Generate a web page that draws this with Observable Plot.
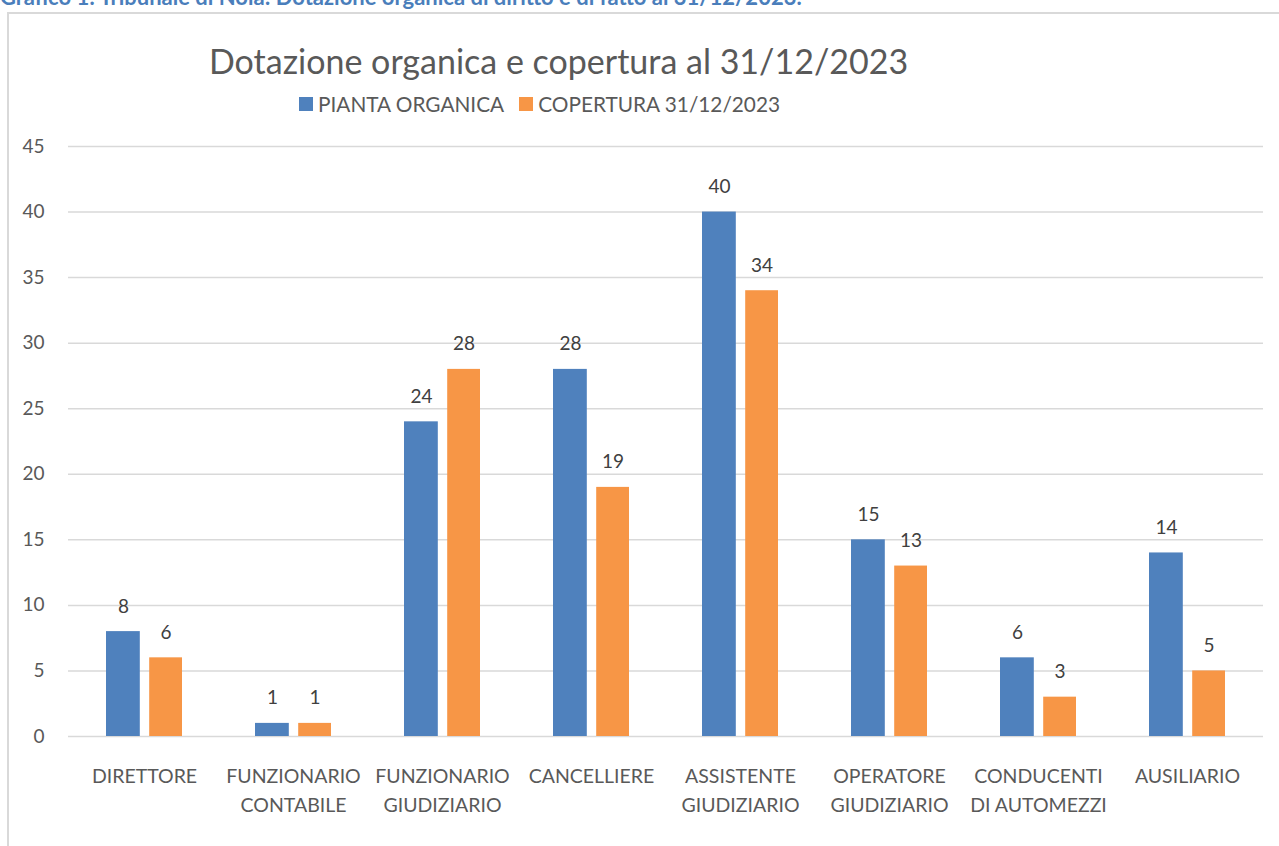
<!DOCTYPE html>
<html>
<head>
<meta charset="utf-8">
<script src="https://cdn.jsdelivr.net/npm/d3@7"></script>
<script src="https://cdn.jsdelivr.net/npm/@observablehq/plot@0.6"></script>
<style>
  html, body { margin: 0; padding: 0; background: #fff; }
  body { width: 1279px; height: 846px; position: relative; overflow: hidden; font-family: Lato, "Open Sans", sans-serif; }
  #caption { position: absolute; left: 0; top: -14px; font: bold 22px/22px Lato, sans-serif; color: #4a7ebb; white-space: nowrap; }
  #frame { position: absolute; left: 7px; top: 12px; width: 1290px; height: 860px; border: 2px solid #d9d9d9; box-sizing: border-box; }
  #title { position: absolute; left: 209px; top: 40px; font-size: 34px; color: #595959; white-space: nowrap; }
  #legend { position: absolute; left: 299px; top: 91px; font-size: 20.8px; color: #595959; white-space: nowrap; display: flex; align-items: center; }
  #legend .sw { display: inline-block; width: 14px; height: 14px; margin-right: 5px; }
  #legend .item { display: flex; align-items: center; margin-right: 15px; }
  #chart { position: absolute; left: 0; top: 120px; }
</style>
</head>
<body>
<div id="caption">Grafico 1: Tribunale di Nola: Dotazione organica di diritto e di fatto al 31/12/2023.</div>
<div id="frame"></div>
<div id="title">Dotazione organica e copertura al 31/12/2023</div>
<div id="legend"></div>
<div id="chart"></div>
<script>
const categories = ["DIRETTORE", "FUNZIONARIO CONTABILE", "FUNZIONARIO GIUDIZIARIO", "CANCELLIERE", "ASSISTENTE GIUDIZIARIO", "OPERATORE GIUDIZIARIO", "CONDUCENTI DI AUTOMEZZI", "AUSILIARIO"];
const categoryLabels = ["DIRETTORE", "FUNZIONARIO\nCONTABILE", "FUNZIONARIO\nGIUDIZIARIO", "CANCELLIERE", "ASSISTENTE\nGIUDIZIARIO", "OPERATORE\nGIUDIZIARIO", "CONDUCENTI\nDI AUTOMEZZI", "AUSILIARIO"];
const seriesNames = ["PIANTA ORGANICA", "COPERTURA 31/12/2023"];
const piantaOrganica = [8, 1, 24, 28, 40, 15, 6, 14];
const copertura = [6, 1, 28, 19, 34, 13, 3, 5];
const seriesColors = ["#4f81bd", "#f79646"];
const yTicks = [0, 5, 10, 15, 20, 25, 30, 35, 40, 45];

const dataA = categories.map((c, i) => ({category: c, value: piantaOrganica[i]}));
const dataB = categories.map((c, i) => ({category: c, value: copertura[i]}));
const labelOf = new Map(categories.map((c, i) => [c, categoryLabels[i]]));

const legend = document.getElementById("legend");
seriesNames.forEach((n, i) => {
  const it = document.createElement("span");
  it.className = "item";
  it.innerHTML = `<span class="sw" style="background:${seriesColors[i]}"></span>${n}`;
  legend.appendChild(it);
});

const chart = Plot.plot({
  width: 1279,
  height: 726,
  marginLeft: 68,
  marginRight: 16,
  marginTop: 26,
  marginBottom: 110,
  style: {fontFamily: "Lato, sans-serif", background: "transparent"},
  x: {domain: categories, paddingInner: 0.49, paddingOuter: 0.245},
  y: {domain: [0, 45]},
  marks: [
    Plot.gridY(yTicks, {stroke: "#d9d9d9", strokeOpacity: 1, strokeWidth: 1.5}),
    Plot.barY(dataA, {x: "category", y: "value", fill: seriesColors[0], insetRight: 42.2}),
    Plot.barY(dataB, {x: "category", y: "value", fill: seriesColors[1], insetLeft: 43.2}),
    Plot.text(dataA, {x: "category", y: "value", text: d => String(d.value), dx: -21, dy: -25, fontSize: 19, fill: "#404040"}),
    Plot.text(dataB, {x: "category", y: "value", text: d => String(d.value), dx: 21.6, dy: -25, fontSize: 19, fill: "#404040"}),
    Plot.axisY(yTicks, {tickSize: 0, tickPadding: 24, fontSize: 19, color: "#595959", label: null}),
    Plot.axisX({tickSize: 0, tickPadding: 25, fontSize: 19.5, color: "#595959", label: null, lineHeight: 1.52, tickFormat: d => labelOf.get(d)})
  ]
});
document.getElementById("chart").appendChild(chart);
</script>
</body>
</html>
